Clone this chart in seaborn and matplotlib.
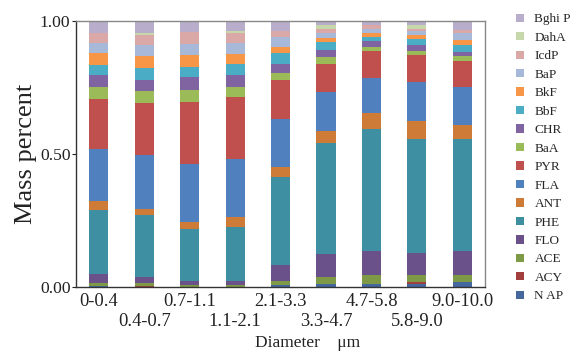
import numpy as np
import pandas as pd
import matplotlib
matplotlib.use("Agg")
import matplotlib.pyplot as plt
import seaborn as sns
from matplotlib.patches import Patch

# Particle size bins (µm)
diameters = ["0-0.4", "0.4-0.7", "0.7-1.1", "1.1-2.1", "2.1-3.3",
             "3.3-4.7", "4.7-5.8", "5.8-9.0", "9.0-10.0"]

# Mass fraction of each PAH per size bin (stacked bottom to top)
NAP   = [0.005, 0.000, 0.000, 0.000, 0.006, 0.0125, 0.0125, 0.0125, 0.020]
ACY   = [0.000, 0.004, 0.000, 0.000, 0.000, 0.000, 0.000, 0.008, 0.000]
ACE   = [0.010, 0.010, 0.008, 0.007, 0.015, 0.025, 0.033, 0.025, 0.025]
FLO   = [0.033, 0.025, 0.015, 0.015, 0.063, 0.088, 0.088, 0.083, 0.090]
PHE   = [0.240, 0.230, 0.195, 0.203, 0.328, 0.416, 0.461, 0.429, 0.421]
ANT   = [0.035, 0.025, 0.025, 0.038, 0.040, 0.045, 0.060, 0.065, 0.053]
FLA   = [0.195, 0.203, 0.218, 0.218, 0.178, 0.148, 0.133, 0.150, 0.143]
PYR   = [0.190, 0.195, 0.233, 0.232, 0.150, 0.105, 0.098, 0.098, 0.098]
BaA   = [0.045, 0.043, 0.045, 0.038, 0.025, 0.025, 0.018, 0.015, 0.020]
CHR   = [0.045, 0.045, 0.050, 0.045, 0.035, 0.028, 0.020, 0.025, 0.015]
BbF   = [0.035, 0.045, 0.038, 0.043, 0.038, 0.030, 0.015, 0.020, 0.025]
BkF   = [0.045, 0.045, 0.045, 0.038, 0.025, 0.015, 0.018, 0.018, 0.020]
BaP   = [0.040, 0.040, 0.040, 0.040, 0.035, 0.018, 0.015, 0.015, 0.025]
IcdP  = [0.038, 0.038, 0.045, 0.038, 0.025, 0.015, 0.013, 0.008, 0.013]
DahA  = [0.000, 0.008, 0.000, 0.008, 0.000, 0.013, 0.000, 0.013, 0.000]
BghiP = [0.045, 0.045, 0.045, 0.038, 0.038, 0.018, 0.018, 0.018, 0.033]

compounds = ["N AP", "ACY", "ACE", "FLO", "PHE", "ANT", "FLA", "PYR",
             "BaA", "CHR", "BbF", "BkF", "BaP", "IcdP", "DahA", "Bghi P"]
series = [NAP, ACY, ACE, FLO, PHE, ANT, FLA, PYR,
          BaA, CHR, BbF, BkF, BaP, IcdP, DahA, BghiP]
colors = ["#44679E", "#A23F3D", "#7E9A47", "#6A5189", "#3F8FA3", "#CF7B38",
          "#5081BE", "#C0504D", "#9BBB59", "#8064A2", "#4BACC6", "#F79646",
          "#A8B8D9", "#DBA8A8", "#C6D8A9", "#B8AECB"]

sns.set_theme(style="white")
plt.rcParams["font.family"] = ["Liberation Serif", "DejaVu Serif"]

fig = plt.figure(figsize=(5.72, 3.53), dpi=100)
ax = fig.add_axes([0.133, 0.187, 0.715, 0.7535])

bottom = np.zeros(len(diameters))
for name, vals, col in zip(compounds, series, colors):
    df = pd.DataFrame({"Diameter": diameters, "value": vals})
    sns.barplot(data=df, x="Diameter", y="value", order=diameters,
                color=col, saturation=1, width=0.42, linewidth=0,
                bottom=bottom.copy(), ax=ax, errorbar=None)
    bottom += np.array(vals)

ax.set_xlim(-0.5, len(diameters) - 0.5)
ax.set_ylim(0, 1.0)
ax.set_yticks([0.0, 0.5, 1.0])
ax.set_yticklabels(["0.00", "0.50", "1.00"], fontsize=12.6)
ax.set_xticks(range(len(diameters)))
ax.set_xticklabels(diameters, fontsize=13.3)
ax.tick_params(axis="x", length=0, pad=4)
# stagger the size-bin labels over two rows
for i, tick in enumerate(ax.xaxis.get_major_ticks()):
    if i % 2 == 1:
        tick.set_pad(19)
ax.tick_params(axis="y", length=3, width=0.8, pad=1, left=True, colors="#222222")
for lab in ax.get_xticklabels() + ax.get_yticklabels():
    lab.set_color("#222222")

for side in ["left", "bottom"]:
    ax.spines[side].set_color("#333333")
    ax.spines[side].set_linewidth(1.0)
for side in ["top", "right"]:
    ax.spines[side].set_color("#888888")
    ax.spines[side].set_linewidth(1.0)

ax.set_ylabel("Mass percent", fontsize=19, labelpad=2, color="#222222")
ax.set_xlabel("Diameter    μm", fontsize=12.5, color="#222222")
ax.xaxis.set_label_coords(0.567, -0.18)

handles = [Patch(facecolor=c, edgecolor="none") for c in colors][::-1]
fig.legend(handles, compounds[::-1], loc="upper left",
           bbox_to_anchor=(0.902, 0.962), frameon=False, fontsize=9.5,
           handlelength=0.6, handleheight=0.6, handletextpad=0.8,
           labelspacing=0.49, borderaxespad=0, borderpad=0)

fig.savefig("out.png", dpi=100)
